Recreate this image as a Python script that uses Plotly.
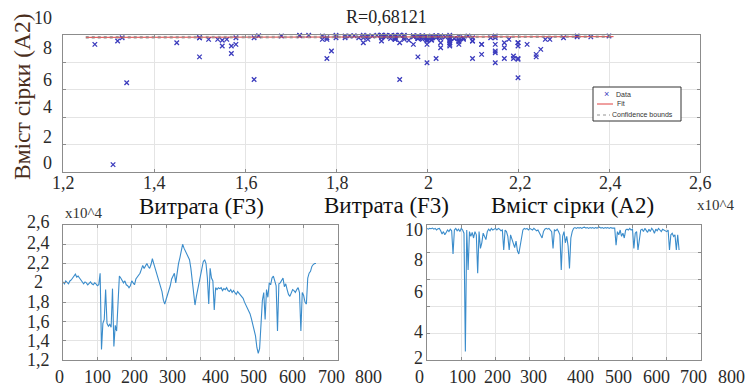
import plotly.graph_objects as go

# ---------------- data ----------------
# sample index (every 4th sample)
sample_idx = list(range(0, 740, 4))

# Flow rate F3 (x10^4)
f3 = [
    2.01, 1.99, 2.02, 2.00, 1.99, 2.02, 2.03, 2.05, 2.07, 2.09,
    2.06, 2.07, 2.05, 2.03, 2.01, 1.99, 2.01, 2.00, 1.98, 2.00,
    2.01, 1.99, 1.98, 2.00, 1.99, 1.97, 1.98, 2.10, 1.31, 1.58,
    1.62, 1.93, 1.58, 1.55, 1.57, 1.54, 1.94, 1.34, 1.56, 1.50,
    1.79, 2.07, 2.05, 2.03, 2.00, 2.02, 1.98, 1.97, 1.95, 1.97,
    2.02, 2.00, 1.98, 2.04, 2.06, 2.08, 2.10, 2.14, 2.18, 2.15,
    2.17, 2.20, 2.17, 2.15, 2.19, 2.25, 2.20, 2.15, 2.12, 2.07,
    2.02, 1.97, 1.91, 1.82, 1.78, 1.83, 1.87, 1.93, 1.97, 2.04,
    2.08, 2.10, 2.00, 2.12, 2.20, 2.26, 2.33, 2.40, 2.36, 2.33,
    2.30, 2.27, 2.24, 2.15, 2.03, 1.90, 1.77, 1.86, 1.94, 2.00,
    2.08, 2.15, 2.22, 2.24, 2.20, 2.05, 1.78, 2.15, 2.05, 2.02,
    1.72, 1.95, 1.93, 1.95, 1.94, 1.95, 1.92, 1.94, 1.93, 1.95,
    1.92, 1.91, 1.93, 1.90, 1.92, 1.90, 1.88, 1.91, 1.89, 1.87,
    1.86, 1.84, 1.80, 1.77, 1.74, 1.72, 1.68, 1.63, 1.57, 1.52,
    1.45, 1.33, 1.27, 1.32, 1.55, 1.82, 1.90, 1.62, 1.93, 1.85,
    2.00, 1.98, 2.05, 2.07, 2.02, 1.97, 1.50, 1.99, 2.00, 2.03,
    2.05, 1.96, 1.99, 1.93, 1.88, 1.86, 1.90, 1.93, 1.92, 1.90,
    1.93, 1.95, 1.90, 1.50, 1.90, 1.87, 1.80, 1.78, 2.05, 2.10,
    2.12, 2.17, 2.19, 2.20, 2.20,
]

# Sulphur content A2
a2 = [
    10.10, 10.05, 10.10, 10.08, 10.12, 10.05, 10.10, 10.00, 10.08, 10.10,
    9.95, 9.75, 9.90, 9.70, 9.85, 10.00, 9.90, 10.05, 9.95, 8.50,
    10.00, 10.10, 9.95, 10.05, 9.90, 10.10, 10.00, 9.80, 2.40, 10.00,
    7.50, 9.90, 9.60, 9.85, 9.50, 9.90, 9.70, 7.30, 9.90, 8.85,
    9.20, 9.80, 9.60, 9.40, 9.90, 10.05, 9.95, 10.10, 10.00, 10.05,
    10.10, 10.00, 10.10, 10.05, 9.95, 10.00, 8.75, 10.00, 9.90, 9.60,
    8.75, 9.70, 9.40, 9.10, 8.90, 9.30, 8.70, 8.50, 9.00, 9.60,
    10.00, 10.10, 10.05, 10.10, 10.00, 10.10, 10.05, 10.00, 10.10, 10.05,
    9.95, 10.00, 9.80, 9.60, 9.50, 9.90, 10.05, 10.10, 10.05, 10.10,
    10.00, 9.90, 8.85, 10.00, 9.95, 10.05, 9.90, 9.70, 7.50, 9.60,
    9.90, 9.20, 9.60, 9.00, 7.60, 9.50, 9.90, 10.10, 10.15, 10.10,
    10.15, 10.12, 10.15, 10.10, 10.15, 10.18, 10.12, 10.15, 10.10, 10.15,
    10.12, 10.15, 10.10, 10.15, 10.12, 10.15, 10.18, 10.12, 10.15, 10.10,
    10.15, 10.12, 10.15, 10.10, 10.15, 10.12, 10.10, 10.12, 9.05, 9.90,
    9.70, 10.00, 9.60, 9.80, 9.50, 10.00, 10.05, 10.00, 10.10, 10.00,
    10.05, 8.85, 9.80, 9.90, 8.75, 9.60, 10.00, 10.05, 9.90, 10.10,
    10.00, 9.85, 10.05, 9.90, 10.10, 10.00, 9.80, 10.05, 9.95, 10.10,
    10.00, 9.90, 10.05, 10.00, 10.00, 9.90, 10.00, 8.75, 9.70, 9.80,
    9.60, 9.70, 8.75, 9.70, 8.75,
]

# regression fit and confidence bounds (top panel)
fit_x = [1.25, 2.41]
fit_y = [10.02, 10.06]
conf_hi = [10.07, 10.10]
conf_lo = [9.97, 10.02]

title_r = "R=0,68121"
legend_names = ["Data", "Fit", "Confidence bounds"]
top_x_labels = ["1,2", "1,4", "1,6", "1,8", "2", "2,2", "2,4", "2,6"]
top_y_labels = ["0", "2", "4", "6", "8", "10"]
bl_y_labels = ["1,2", "1,4", "1,6", "1,8", "2", "2,2", "2,4", "2,6"]
br_y_labels = ["2", "4", "6", "8", "10"]
bottom_x_labels = ["0", "100", "200", "300", "400", "500", "600", "700", "800"]

# ---------------- layout helpers ----------------
W, H = 746, 387
def px(x):
    return x / W
def py(y):
    return 1 - y / H

SERIF = "Liberation Serif, Times New Roman, DejaVu Serif, serif"
SANS = "Liberation Sans, Arial, sans-serif"
GRID = "#e4e4e4"
FRAME = "#8c8c8c"
LINE_BLUE = "#3a8ccb"
MARK_BLUE = "#3b3bbd"
FIT_RED = "#e04040"

fig = go.Figure()

# top scatter
fig.add_trace(go.Scatter(
    x=f3, y=a2, mode="markers", name=legend_names[0],
    marker=dict(symbol="x-thin", size=4.5, line=dict(width=1.3, color=MARK_BLUE)),
    cliponaxis=False, xaxis="x", yaxis="y"))
fig.add_trace(go.Scatter(
    x=fit_x, y=fit_y, mode="lines", name=legend_names[1],
    line=dict(color=FIT_RED, width=1), xaxis="x", yaxis="y"))
fig.add_trace(go.Scatter(
    x=fit_x, y=conf_hi, mode="lines", name=legend_names[2],
    line=dict(color="#888888", width=0.8, dash="dot"), xaxis="x", yaxis="y"))
fig.add_trace(go.Scatter(
    x=fit_x, y=conf_lo, mode="lines", name=legend_names[2],
    line=dict(color="#888888", width=0.8, dash="dot"), xaxis="x", yaxis="y"))

# bottom-left: F3 series
fig.add_trace(go.Scatter(
    x=sample_idx, y=f3, mode="lines",
    line=dict(color=LINE_BLUE, width=1.1), xaxis="x2", yaxis="y2"))
# bottom-right: A2 series
fig.add_trace(go.Scatter(
    x=sample_idx, y=a2, mode="lines",
    line=dict(color=LINE_BLUE, width=1.1), xaxis="x3", yaxis="y3"))

def ax(domain, rng, tickvals, anchor):
    return dict(domain=domain, range=rng, tickvals=tickvals, showticklabels=False,
                showgrid=True, gridcolor=GRID, gridwidth=1, zeroline=False,
                showline=True, linecolor=FRAME, linewidth=1, mirror="ticks",
                ticks="inside", ticklen=3, tickcolor=FRAME, anchor=anchor,
                fixedrange=True)

top_y0, top_y1 = 1.96, 10.16
top_ystep = (top_y1 - top_y0) / 5
br_y0, br_y1 = 1.875, 10.3125
br_ystep = (br_y1 - br_y0) / 5

fig.update_layout(
    width=W, height=H, margin=dict(l=0, r=0, t=0, b=0),
    paper_bgcolor="white", plot_bgcolor="white",
    font=dict(family=SERIF, color="#222"),
    showlegend=False,
    xaxis=ax([px(63), px(700)], [1.2, 2.6], [1.2 + 0.2 * k for k in range(8)], "y"),
    yaxis=ax([py(172), py(35)], [top_y0, top_y1],
             [top_y0 + top_ystep * k for k in range(1, 5)], "x"),
    xaxis2=ax([px(63), px(338)], [0, 800], list(range(0, 801, 100)), "y2"),
    yaxis2=ax([py(360), py(225)], [1.2, 2.6], [1.2 + 0.2 * k for k in range(8)], "x2"),
    xaxis3=ax([px(427), px(701)], [0, 800], list(range(0, 801, 100)), "y3"),
    yaxis3=ax([py(360), py(225)], [br_y0, br_y1],
              [br_y0 + br_ystep * k for k in range(1, 5)], "x3"),
)

ann = []
def label(text, x, y, size=18, xanchor="center", yanchor="middle", color="#2a2a2a",
          textangle=0, family=SERIF):
    ann.append(dict(text=text, x=px(x), y=py(y), xref="paper", yref="paper",
                    xanchor=xanchor, yanchor=yanchor, showarrow=False, textangle=textangle,
                    font=dict(family=family, size=size, color=color)))

for t, xx in zip(top_x_labels, [63, 154, 246, 337, 428, 520, 610, 700]):
    label(t, xx, 183)
for t, yy in zip(top_y_labels, [163, 137, 107, 80, 48, 18]):
    label(t, 54, yy, xanchor="right")
for t, yy in zip(bl_y_labels, [360, 341, 322, 302, 282, 263, 243, 222]):
    label(t, 38, yy)
for t, yy in zip(br_y_labels, [358, 332, 292, 260, 230]):
    label(t, 425, yy, xanchor="right")
for t, xx in zip(bottom_x_labels, [59, 97, 134, 172, 215, 253, 292, 331, 368]):
    label(t, xx, 377)
for t, xx in zip(bottom_x_labels, [419, 462, 497, 533, 580, 618, 656, 693, 731]):
    label(t, xx, 377)

label(title_r, 386, 17, size=18, color="#222")
label("Вміст сірки (A2)", 22, 97, size=23.5, color="#4a2e1c", textangle=-90)
label("Витрата (F3)", 201, 207, size=23, color="#111")
label("Витрата (F3)", 386, 205, size=23, color="#111")
label("Вміст сірки (A2)", 572, 205, size=23, color="#111")
label("x10^4", 63, 213, size=15, xanchor="left", color="#333")
label("x10^4", 716, 205, size=15, color="#333")

# legend box (drawn manually, MATLAB style)
shapes = [
    dict(type="rect", xref="paper", yref="paper", x0=px(593), x1=px(681), y0=py(121), y1=py(87),
         line=dict(color="#333", width=1), fillcolor="white", layer="above"),
    dict(type="line", xref="paper", yref="paper", x0=px(597), x1=px(613), y0=py(104), y1=py(104),
         line=dict(color=FIT_RED, width=1), layer="above"),
    dict(type="line", xref="paper", yref="paper", x0=px(597), x1=px(610), y0=py(115), y1=py(115),
         line=dict(color="#777", width=0.8, dash="dot"), layer="above"),
]
label("×", 606, 94, size=9, color=MARK_BLUE, family=SANS)
label(legend_names[0], 614, 94, size=7, xanchor="left", color="#333", family=SANS)
label(legend_names[1], 615, 104, size=7, xanchor="left", color="#333", family=SANS)
label(legend_names[2], 610, 115, size=7, xanchor="left", color="#333", family=SANS)

fig.update_layout(annotations=ann, shapes=shapes)
fig.write_html("out.html", config={"displayModeBar": False},
               post_script="document.body.style.margin='0';")
